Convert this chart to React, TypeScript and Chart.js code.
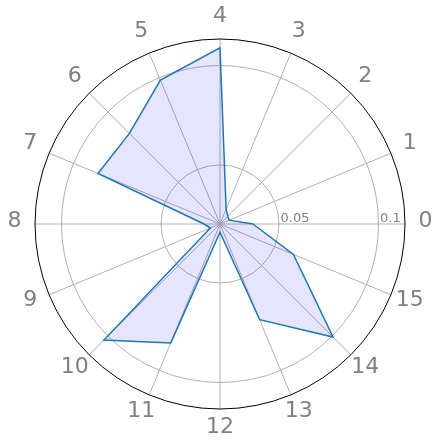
import React, { useEffect, useRef } from "react";
import { Chart, registerables } from "chart.js";

Chart.register(...registerables);

const categories = ["0", "1", "2", "3", "4", "5", "6", "7", "8", "9", "10", "11", "12", "13", "14", "15"];
const values = [
  0.0369, 0.0254, 0.0259, 0.0284, 0.1089, 0.0986, 0.0847, 0.0867,
  0.0284, 0.0256, 0.1028, 0.085, 0.0245, 0.0724, 0.1007, 0.0603,
];
const radialTicks = [0.05, 0.1];
const radialTickLabels = ["0.05", "0.1"];
const R_MIN = 0.02035;
const R_MAX = 0.1133;

// matplotlib polar goes counter-clockwise from east; Chart.js goes clockwise
const order = [0, ...Array.from({ length: categories.length - 1 }, (_, k) => categories.length - 1 - k)];

const FONT = "'DejaVu Sans', sans-serif";
const GRID = "#b0b0b0";
const TEXT = "#808080";

const overlay = {
  id: "polarOverlay",
  afterDraw(chart: any) {
    const scale = chart.scales.r;
    const ctx = chart.ctx;
    ctx.save();
    // outer spine
    ctx.beginPath();
    ctx.arc(scale.xCenter, scale.yCenter, scale.drawingArea, 0, Math.PI * 2);
    ctx.strokeStyle = "#000000";
    ctx.lineWidth = 1;
    ctx.stroke();
    // angular labels
    ctx.fillStyle = TEXT;
    ctx.font = `22px ${FONT}`;
    ctx.textAlign = "center";
    ctx.textBaseline = "middle";
    chart.data.labels.forEach((lab: string, i: number) => {
      const p = scale.getPointPosition(i, scale.drawingArea + 20.5);
      ctx.fillText(lab, p.x, p.y - 2.5);
    });
    // radial tick labels
    ctx.font = `13px ${FONT}`;
    ctx.textAlign = "left";
    ctx.textBaseline = "alphabetic";
    radialTicks.forEach((v, i) => {
      const d = scale.getDistanceFromCenterForValue(v);
      ctx.fillText(radialTickLabels[i], scale.xCenter + d + 1.5, scale.yCenter - 2.5);
    });
    ctx.restore();
  },
};

export default function App() {
  const ref = useRef<HTMLCanvasElement | null>(null);
  useEffect(() => {
    document.body.style.margin = "0";
    const c = ref.current;
    if (!c) return;
    const chart = new Chart(c, {
      type: "radar",
      data: {
        labels: order.map((i) => categories[i]),
        datasets: [
          {
            data: order.map((i) => values[i]),
            borderColor: "#1f77b4",
            backgroundColor: "rgba(0,0,255,0.1)",
            borderWidth: 1.5,
            pointRadius: 0,
            fill: true,
            tension: 0,
          },
        ],
      },
      plugins: [overlay],
      options: {
        responsive: false,
        animation: false,
        layout: { padding: { left: 35, right: 35, top: 39, bottom: 39 } },
        plugins: { legend: { display: false }, tooltip: { enabled: false } },
        scales: {
          r: {
            min: R_MIN,
            max: R_MAX,
            startAngle: 90,
            beginAtZero: false,
            afterBuildTicks: (scale: any) => {
              scale.ticks = [{ value: R_MIN }, ...radialTicks.map((v) => ({ value: v }))];
            },
            ticks: { display: false },
            pointLabels: { display: false },
            grid: { circular: true, color: GRID, lineWidth: 1 },
            angleLines: { color: GRID, lineWidth: 1 },
          },
        },
      },
    } as any);
    return () => chart.destroy();
  }, []);
  return <canvas ref={ref} width={441} height={448} style={{ display: "block" }} />;
}
